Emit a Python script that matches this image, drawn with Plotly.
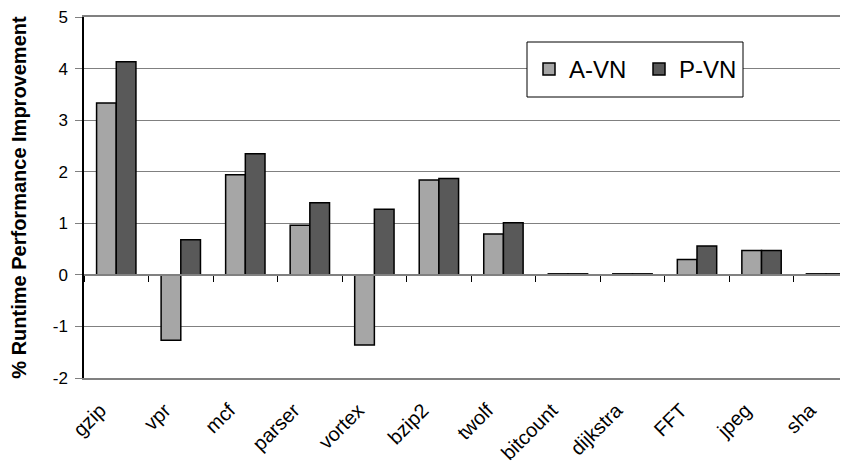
import plotly.graph_objects as go

# benchmark names and % runtime improvement for the two schemes
benchmarks = ["gzip", "vpr", "mcf", "parser", "vortex", "bzip2", "twolf",
              "bitcount", "dijkstra", "FFT", "jpeg", "sha"]
a_vn = [3.33, -1.27, 1.94, 0.96, -1.36, 1.84, 0.79, 0.02, 0.02, 0.30, 0.47, 0.02]
p_vn = [4.13, 0.68, 2.35, 1.40, 1.27, 1.87, 1.01, 0.02, 0.02, 0.56, 0.47, 0.02]
y_ticks = [-2, -1, 0, 1, 2, 3, 4, 5]
y_labels = ["-2", "-1", "0", "1", "2", "3", "4", "5"]

# page body adds an 8px margin, so the figure is drawn 8px in from the corner
OFF = 8
W, H = 848 - OFF, 468 - OFF
L, R, T, B = 84 - OFF, 0, 17 - OFF, 90
font = "Liberation Sans, Arial, sans-serif"


def px_x(sx):
    # screen x -> paper fraction
    return (sx - OFF - L) / (W - L - R)


def px_y(sy):
    # screen y -> paper fraction
    return (H - B - (sy - OFF)) / (H - T - B)


fig = go.Figure()
fig.add_trace(go.Bar(x=benchmarks, y=a_vn, name="A-VN",
                     marker=dict(color="#a6a6a6", line=dict(color="black", width=1.5))))
fig.add_trace(go.Bar(x=benchmarks, y=p_vn, name="P-VN",
                     marker=dict(color="#595959", line=dict(color="black", width=1.5))))
# helper trace so the zero-line axis (with boundary ticks) is drawn
fig.add_trace(go.Scatter(x=benchmarks, y=[0] * len(benchmarks), xaxis="x2",
                         mode="markers", marker=dict(opacity=0),
                         showlegend=False, hoverinfo="skip"))

xrange = [-0.5, 11.34]
zero_pos = (0 - y_ticks[0]) / (y_ticks[-1] - y_ticks[0])

fig.update_layout(
    width=W, height=H,
    margin=dict(l=L, r=R, t=T, b=B, autoexpand=False),
    paper_bgcolor="white", plot_bgcolor="white",
    font=dict(family=font, color="black"),
    barmode="group", bargap=0.39, bargroupgap=0,
    showlegend=True,
    legend=dict(orientation="h", x=px_x(529), y=px_y(69.5), xanchor="left", yanchor="middle",
                bgcolor="rgba(0,0,0,0)", borderwidth=0,
                font=dict(size=24, family=font),
                entrywidth=65, entrywidthmode="pixels"),
    xaxis=dict(type="category", range=xrange, showgrid=False, ticks="",
               showline=True, mirror=True, linecolor="#808080", linewidth=1.5,
               tickangle=-45, tickfont=dict(size=20, family=font),
               ticklabelshift=-16, ticklabelstandoff=11, automargin=False),
    xaxis2=dict(type="category", overlaying="x", anchor="free", position=zero_pos,
                range=xrange, showgrid=False, showticklabels=False,
                tickson="boundaries", ticks="outside", ticklen=6,
                tickcolor="black", tickwidth=1,
                showline=True, linecolor="#808080", linewidth=1.5),
    yaxis=dict(range=[y_ticks[0], y_ticks[-1]], tickvals=y_ticks, ticktext=y_labels,
               showgrid=True, gridcolor="#808080", gridwidth=1.2,
               zeroline=False, showline=True, linecolor="black", linewidth=1.5,
               ticks="outside", ticklen=7, tickcolor="#808080",
               tickfont=dict(size=17, family=font), automargin=False,
               ticklabeloverflow="allow", ticklabelstandoff=4,
               title=dict(text="<b>% Runtime Performance Improvement</b>",
                          font=dict(size=20, family=font), standoff=24)),
    shapes=[dict(type="rect", xref="paper", yref="paper",
                 x0=px_x(527), x1=px_x(743), y0=px_y(97), y1=px_y(42),
                 line=dict(color="black", width=1), fillcolor="white", layer="above")],
)

fig.write_html("out.html")
